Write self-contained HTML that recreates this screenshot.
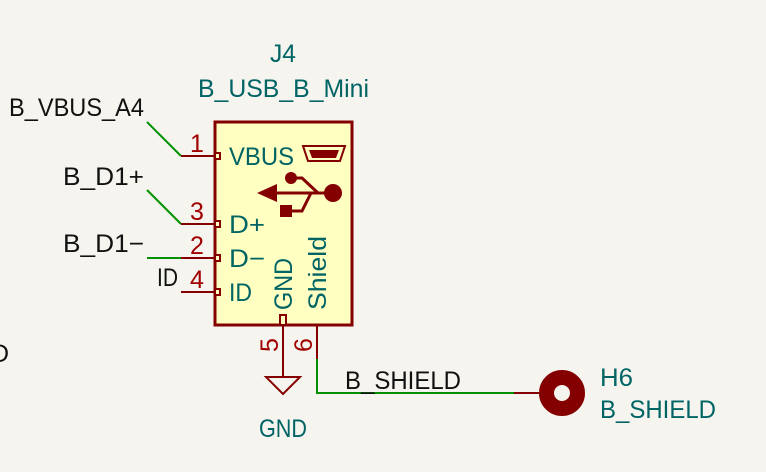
<!DOCTYPE html>
<html><head><style>body{margin:0;background:#f5f4ef}svg{display:block}</style></head>
<body>
<svg width="766" height="472" viewBox="0 0 766 472" xmlns="http://www.w3.org/2000/svg" font-family="Liberation Sans, sans-serif" font-size="25">
<rect width="766" height="472" fill="#f5f4ef"/>
<rect x="215" y="122" width="137" height="203" fill="#ffffc2" stroke="#840000" stroke-width="3"/>
<g stroke="#009000" stroke-width="2" fill="none">
<polyline points="147,122 181,156"/>
<polyline points="147,190 181,224"/>
<polyline points="147,258 181,258"/>
<polyline points="317,359 317,393 514,393"/>
</g>
<g stroke="#840000" stroke-width="2" fill="none">
<line x1="181" y1="156" x2="215" y2="156"/>
<line x1="181" y1="224" x2="215" y2="224"/>
<line x1="181" y1="258" x2="215" y2="258"/>
<line x1="181" y1="292" x2="215" y2="292"/>
<line x1="283" y1="325" x2="283" y2="377"/>
<line x1="317" y1="325" x2="317" y2="359"/>
<line x1="514" y1="393" x2="540" y2="393"/>
<polygon points="266,377 300,377 283,394"/>
<rect x="215" y="153" width="5" height="6" fill="#ffffc2"/>
<rect x="215" y="221" width="5" height="6" fill="#ffffc2"/>
<rect x="215" y="255" width="5" height="6" fill="#ffffc2"/>
<rect x="215" y="289" width="5" height="6" fill="#ffffc2"/>
<rect x="280" y="315" width="6" height="10" fill="#ffffc2"/>
</g>
<g fill="#840000" stroke="#840000">
<polygon points="303,146 345,146 340,161 308,161" fill="none" stroke-width="2"/>
<polygon points="309,150 339,150 336,158 312,158" stroke="none"/>
<polygon points="257,193 277,184 277,202" stroke="none"/>
<line x1="276" y1="193" x2="333" y2="193" stroke-width="3"/>
<circle cx="333" cy="193" r="9" stroke="none"/>
<circle cx="291" cy="178" r="6" stroke="none"/>
<polyline points="291,178 302,178 318,193" fill="none" stroke-width="3"/>
<rect x="280" y="205" width="12" height="12" stroke="none"/>
<polyline points="290,211 302,211 311,193" fill="none" stroke-width="3"/>
</g>
<circle cx="562" cy="393" r="15.5" fill="none" stroke="#840000" stroke-width="15"/>
<g fill="#111">
<text x="9" y="116" textLength="135" lengthAdjust="spacingAndGlyphs">B_VBUS_A4</text>
<text x="63" y="185" textLength="81" lengthAdjust="spacingAndGlyphs">B_D1+</text>
<text x="63" y="252" textLength="81" lengthAdjust="spacingAndGlyphs">B_D1−</text>
<text x="157" y="286" textLength="21" lengthAdjust="spacingAndGlyphs">ID</text>
<text x="345" y="389" textLength="116" lengthAdjust="spacingAndGlyphs">B_SHIELD</text>
<text x="-9" y="362">D</text>
</g>
<g fill="#006464">
<text x="270" y="62" textLength="26" lengthAdjust="spacingAndGlyphs">J4</text>
<text x="198" y="97" textLength="171" lengthAdjust="spacingAndGlyphs">B_USB_B_Mini</text>
<text x="229" y="165" textLength="65" lengthAdjust="spacingAndGlyphs">VBUS</text>
<text x="229" y="233" textLength="36" lengthAdjust="spacingAndGlyphs">D+</text>
<text x="229" y="267" textLength="36" lengthAdjust="spacingAndGlyphs">D−</text>
<text x="229" y="301" textLength="23" lengthAdjust="spacingAndGlyphs">ID</text>
<text transform="translate(292,310) rotate(-90)" textLength="52" lengthAdjust="spacingAndGlyphs">GND</text>
<text transform="translate(326,310) rotate(-90)" textLength="74" lengthAdjust="spacingAndGlyphs">Shield</text>
<text x="259" y="437" textLength="48" lengthAdjust="spacingAndGlyphs">GND</text>
<text x="600" y="386" textLength="33" lengthAdjust="spacingAndGlyphs">H6</text>
<text x="600" y="418" textLength="116" lengthAdjust="spacingAndGlyphs">B_SHIELD</text>
</g>
<g fill="#a00000">
<text x="190" y="152">1</text>
<text x="190" y="220">3</text>
<text x="190" y="254">2</text>
<text x="190" y="288">4</text>
<text transform="translate(278,352) rotate(-90)">5</text>
<text transform="translate(312,352) rotate(-90)">6</text>
</g>
</svg>
</body></html>
